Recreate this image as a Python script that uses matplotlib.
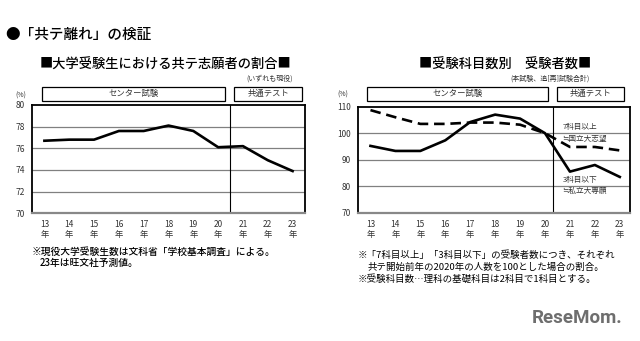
import matplotlib
matplotlib.use("Agg")
import matplotlib.pyplot as plt
from matplotlib.patches import Rectangle
import matplotlib.transforms as mtransforms

plt.rcParams['font.family'] = ['Noto Sans CJK JP', 'DejaVu Sans']

# data
years = [13, 14, 15, 16, 17, 18, 19, 20, 21, 22, 23]
year_labels = [f"{y}\n年" for y in years]
share = [76.7, 76.8, 76.8, 77.6, 77.6, 78.1, 77.6, 76.1, 76.2, 74.9, 73.9]
seven_plus = [108.7, 106.0, 103.5, 103.5, 104.0, 104.0, 103.2, 100.0, 94.8, 94.8, 93.5]
three_less = [95.2, 93.3, 93.3, 97.3, 104.2, 107.0, 105.5, 100.0, 85.5, 88.0, 83.5]

TXT = "#333333"
GRID = "#808080"


def style_axes(ax, yticks, ylim, xlim):
    ax.set_xlim(*xlim)
    ax.set_ylim(*ylim)
    ax.set_yticks(yticks)
    ax.set_xticks(years)
    ax.set_xticklabels(year_labels, fontsize=6, color=TXT, linespacing=1.15)
    ax.tick_params(axis='both', length=0, labelsize=6, labelcolor=TXT)
    ax.tick_params(axis='x', pad=5)
    ax.tick_params(axis='y', pad=5)
    for y in yticks[1:-1]:
        ax.axhline(y, color=GRID, lw=0.9, zorder=1)
    for s in ax.spines.values():
        s.set_linewidth(1.3)
        s.set_color('black')
    ax.spines['bottom'].set_color('#888888')
    ax.spines['bottom'].set_linewidth(1.6)


def header_box(ax, x0, x1, y0, y1, label):
    trans = mtransforms.blended_transform_factory(ax.transData, ax.transAxes)
    ax.add_patch(Rectangle((x0, y0), x1 - x0, y1 - y0, transform=trans,
                           fill=False, ec='black', lw=0.9, clip_on=False))
    ax.text((x0 + x1) / 2, (y0 + y1) / 2, label, transform=trans,
            ha='center', va='center', fontsize=6, color=TXT)


fig = plt.figure(figsize=(6.4, 3.41), dpi=100)
fig.patch.set_facecolor('white')

fig.text(0.008, 1 - 35 / 341, "●「共テ離れ」の検証", fontsize=10.5, va='center',
         ha='left', color='black', fontweight='medium')

# left chart
ax1 = fig.add_axes([0.05, 0.3745, 0.4266, 0.3176])
style_axes(ax1, [70, 72, 74, 76, 78, 80], (70, 80), (12.5, 23.5))
ax1.axvline(20.46, color='black', lw=0.8, zorder=1)
ax1.plot(years, share, color='black', lw=1.9, zorder=3)
header_box(ax1, 12.89, 20.28, 1.037, 1.169, "センター試験")
header_box(ax1, 20.64, 23.39, 1.037, 1.169, "共通テスト")
ax1.text(-0.02, 1.09, "(%)", transform=ax1.transAxes, fontsize=5,
         ha='right', va='center', color=TXT)
fig.text(166 / 640, 1 - 65 / 341, "■大学受験生における共テ志願者の割合■",
         fontsize=9.5, ha='center', va='center', color='black', fontweight='medium')
fig.text(293 / 640, 1 - 79 / 341, "(いずれも現役)", fontsize=5,
         ha='right', va='center', color=TXT)
fig.text(32 / 640, 1 - 252 / 341,
         "※現役大学受験生数は文科省「学校基本調査」による。",
         fontsize=7, ha='left', va='center', color='black', fontweight='medium')
fig.text(40 / 640, 1 - 263 / 341, "23年は旺文社予測値。",
         fontsize=7, ha='left', va='center', color='black', fontweight='medium')

# right chart
ax2 = fig.add_axes([0.559, 0.3762, 0.425, 0.311])
style_axes(ax2, [70, 80, 90, 100, 110], (70, 110), (12.49, 23.4))
ax2.axvline(20.33, color='black', lw=0.8, zorder=1)
ax2.plot(years, seven_plus, color='black', lw=1.9, ls=(0, (4, 2.2)), zorder=3)
ax2.plot(years, three_less, color='black', lw=1.9, zorder=3)
header_box(ax2, 12.88, 20.12, 1.054, 1.189, "センター試験")
header_box(ax2, 20.49, 23.16, 1.054, 1.189, "共通テスト")
ax2.text(-0.035, 1.11, "(%)", transform=ax2.transAxes, fontsize=5,
         ha='right', va='center', color=TXT)
ax2.text(20.7, 102.2, "7科目以上", fontsize=5.5, color=TXT, ha='left', va='center')
ax2.text(20.7, 97.8, "≒国立大志望", fontsize=5.5, color=TXT, ha='left', va='center')
ax2.text(20.7, 82.2, "3科目以下", fontsize=5.5, color=TXT, ha='left', va='center')
ax2.text(20.7, 78.2, "≒私立大専願", fontsize=5.5, color=TXT, ha='left', va='center')
fig.text(505 / 640, 1 - 65 / 341, "■受験科目数別　受験者数■",
         fontsize=9.5, ha='center', va='center', color='black', fontweight='medium')
fig.text(590 / 640, 1 - 79 / 341, "(本試験、追[再]試験合計)", fontsize=5,
         ha='right', va='center', color=TXT)
fig.text(358 / 640, 1 - 255 / 341,
         "※「7科目以上」「3科目以下」の受験者数につき、それぞれ",
         fontsize=6.8, ha='left', va='center', color='black')
fig.text(368 / 640, 1 - 267 / 341,
         "共テ開始前年の2020年の人数を100とした場合の割合。",
         fontsize=6.8, ha='left', va='center', color='black')
fig.text(358 / 640, 1 - 279 / 341,
         "※受験科目数…理科の基礎科目は2科目で1科目とする。",
         fontsize=6.8, ha='left', va='center', color='black')

# logo
fig.text(577 / 640, 1 - 318 / 341, "ReseMom.", fontsize=13.5, fontweight='bold',
         family='Roboto', color='#6e6e6e', ha='center', va='center')

fig.savefig("out.png", dpi=100, facecolor='white')
